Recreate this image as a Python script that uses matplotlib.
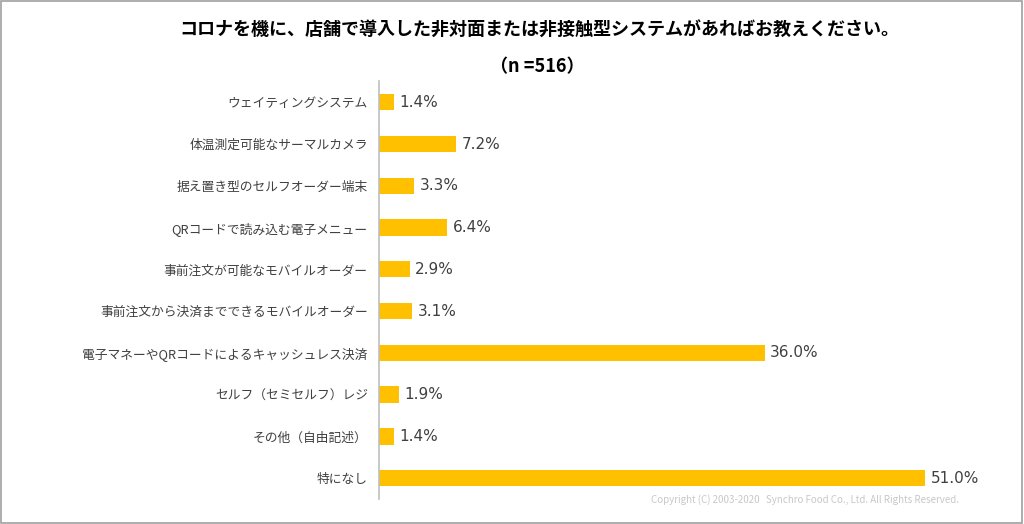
import matplotlib
matplotlib.use("Agg")
import matplotlib.pyplot as plt
from matplotlib.patches import Rectangle

plt.rcParams['font.family'] = ['Noto Sans CJK JP', 'DejaVu Sans']

categories = [
    "ウェイティングシステム",
    "体温測定可能なサーマルカメラ",
    "据え置き型のセルフオーダー端末",
    "QRコードで読み込む電子メニュー",
    "事前注文が可能なモバイルオーダー",
    "事前注文から決済までできるモバイルオーダー",
    "電子マネーやQRコードによるキャッシュレス決済",
    "セルフ（セミセルフ）レジ",
    "その他（自由記述）",
    "特になし",
]
values = [1.4, 7.2, 3.3, 6.4, 2.9, 3.1, 36.0, 1.9, 1.4, 51.0]

fig = plt.figure(figsize=(10.24, 5.24), dpi=100)
ax = fig.add_axes([0.370, 0.0477, 0.606, 0.797])

y = list(range(len(categories)))
ax.barh(y, values, height=0.39, color="#FFC000")
for yi, v in zip(y, values):
    ax.text(v + 0.5, yi, f"{v:.1f}%", va="center", ha="left", fontsize=11,
            color="#404040", family=["DejaVu Sans"])

ax.set_yticks(y)
ax.set_yticklabels(categories, fontsize=9.2, color="#404040")
ax.tick_params(axis="y", length=0, pad=8)
ax.set_xticks([])
ax.set_xlim(0, 57.9)
ax.set_ylim(9.5, -0.5)
for s in ["top", "right", "bottom"]:
    ax.spines[s].set_visible(False)
ax.spines["left"].set_color("#BFBFBF")
ax.spines["left"].set_linewidth(1.2)

fig.text(0.527, 0.943, "コロナを機に、店舗で導入した非対面または非接触型システムがあればお教えください。",
         ha="center", va="center", fontsize=13, fontweight="bold", color="#000000")
fig.text(0.525, 0.872, "（n =516）", ha="center", va="center", fontsize=13,
         fontweight="bold", color="#000000")
fig.text(0.786, 0.046, "Copyright (C) 2003-2020   Synchro Food Co., Ltd. All Rights Reserved.",
         ha="center", va="center", fontsize=7, color="#C8C8C8")

fig.patches.append(Rectangle((0.001, 0.002), 0.997, 0.996, transform=fig.transFigure,
                             fill=False, edgecolor="#A0A0A0", linewidth=1.2))

fig.savefig("out.png", dpi=100)
